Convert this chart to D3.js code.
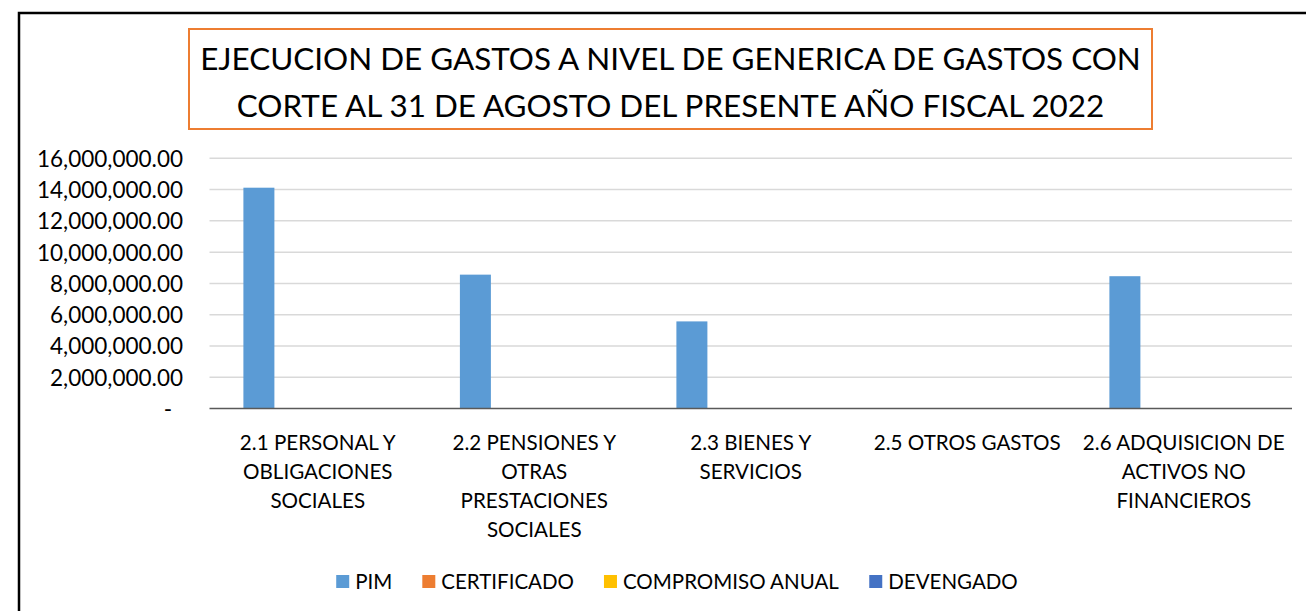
<!DOCTYPE html>
<html>
<head>
<meta charset="utf-8">
<title>Ejecucion de gastos 2022</title>
<script src="https://cdn.jsdelivr.net/npm/d3@7/dist/d3.min.js"></script>
<style>
    body { margin: 0; background: #fff; }
    svg text { font-family: Lato, "Liberation Sans", sans-serif; fill: #000; }
</style>
</head>
<body>
<svg id="chart" width="1306" height="611"></svg>
<script>
// categories (tick labels, "|" = line break as in the original)
var categories = ["2.1", "2.2", "2.3", "2.5", "2.6"];
var categoryLabels = [
    "2.1 PERSONAL Y|OBLIGACIONES|SOCIALES",
    "2.2 PENSIONES Y|OTRAS|PRESTACIONES|SOCIALES",
    "2.3 BIENES Y|SERVICIOS",
    "2.5 OTROS GASTOS",
    "2.6 ADQUISICION DE|ACTIVOS NO|FINANCIEROS"
];
var seriesNames = ["PIM", "CERTIFICADO", "COMPROMISO ANUAL", "DEVENGADO"];
var seriesColors = ["#5B9BD5", "#ED7D31", "#FFC000", "#4472C4"];

// values
var pim = [14120000, 8560000, 5570000, 0, 8460000];
var certificado = [30000, 30000, 30000, 0, 30000];
var compromiso = [30000, 30000, 30000, 0, 30000];
var devengado = [30000, 30000, 30000, 0, 30000];

var yTicks = [0, 2000000, 4000000, 6000000, 8000000, 10000000, 12000000, 14000000, 16000000];
var titleLines = ["EJECUCION DE GASTOS A NIVEL DE GENERICA DE GASTOS CON",
                  "CORTE AL 31 DE AGOSTO DEL PRESENTE AÑO FISCAL 2022"];

var allSeries = [pim, certificado, compromiso, devengado];

var svg = d3.select("#chart");

// outer frame
svg.append("rect")
    .attr("x", 19).attr("y", 13)
    .attr("width", 1400).attr("height", 700)
    .attr("fill", "none").attr("stroke", "#000").attr("stroke-width", 2.5);

// title box
svg.append("rect")
    .attr("x", 189).attr("y", 29)
    .attr("width", 963).attr("height", 100)
    .attr("fill", "#fff").attr("stroke", "#ED7D31").attr("stroke-width", 2);

svg.selectAll("text.title").data(titleLines).enter().append("text")
    .attr("class", "title")
    .attr("x", 670.5)
    .attr("y", function(d, i) { return 70 + i * 47; })
    .attr("text-anchor", "middle")
    .attr("font-size", "31.4px")
    .text(function(d) { return d; });

var plotLeft = 209.5, plotRight = 1292;
var y = d3.scaleLinear().domain([0, 16000000]).range([408.5, 158.3]);
var x0 = d3.scaleBand().domain(categories).range([plotLeft, plotRight]).padding(0);
var bw0 = x0.bandwidth();
var groupW = 148.7;
var x1 = d3.scaleBand().domain(d3.range(seriesNames.length))
    .range([(bw0 - groupW) / 2, (bw0 + groupW) / 2])
    .paddingInner(0.21).paddingOuter(0);

// gridlines
svg.append("g").selectAll("line").data(yTicks.slice(1)).enter().append("line")
    .attr("x1", plotLeft).attr("x2", plotRight)
    .attr("y1", function(d) { return y(d); })
    .attr("y2", function(d) { return y(d); })
    .attr("stroke", "#d9d9d9").attr("stroke-width", 1.5);

// y axis labels
var fmt = d3.format(",.2f");
var yAxis = d3.axisLeft(y).tickValues(yTicks).tickSize(0).tickPadding(0)
    .tickFormat(function(d) { return d === 0 ? "-" : fmt(d); });
var yg = svg.append("g").attr("transform", "translate(183,0)").call(yAxis);
yg.select(".domain").remove();
yg.selectAll("text")
    .attr("font-size", "22.5px")
    .attr("font-family", "Lato, 'Liberation Sans', sans-serif")
    .attr("fill", "#000")
    .attr("dy", "0.35em");
yg.selectAll(".tick").filter(function(d) { return d === 0; }).select("text")
    .attr("x", -11);

// bars
var groups = svg.append("g").selectAll("g").data(categories).enter().append("g")
    .attr("transform", function(d) { return "translate(" + x0(d) + ",0)"; });

groups.selectAll("rect")
    .data(function(d, ci) {
        return allSeries.map(function(s, si) { return { si: si, v: s[ci] }; });
    })
    .enter().append("rect")
    .attr("x", function(d) { return x1(d.si); })
    .attr("width", x1.bandwidth())
    .attr("y", function(d) { return y(d.v); })
    .attr("height", function(d) { return y(0) - y(d.v); })
    .attr("fill", function(d) { return seriesColors[d.si]; });

// zero axis line
svg.append("line")
    .attr("x1", plotLeft).attr("x2", plotRight)
    .attr("y1", y(0)).attr("y2", y(0))
    .attr("stroke", "#595959").attr("stroke-width", 1.5);

// category labels
var xAxis = d3.axisBottom(x0).tickSize(0).tickFormat("");
var xg = svg.append("g").attr("transform", "translate(0," + y(0) + ")").call(xAxis);
xg.select(".domain").remove();
xg.selectAll(".tick").each(function(d, i) {
    var t = d3.select(this).append("text")
        .attr("text-anchor", "middle")
        .attr("font-size", "20.6px")
        .attr("fill", "#000");
    categoryLabels[i].split("|").forEach(function(line, li) {
        t.append("tspan").attr("x", 0).attr("y", 41.5 + li * 29).text(line);
    });
});

// legend
var legend = svg.append("g");
var items = legend.selectAll("g").data(seriesNames).enter().append("g");
items.append("rect")
    .attr("width", 13).attr("height", 13)
    .attr("y", 575)
    .attr("fill", function(d, i) { return seriesColors[i]; });
items.append("text")
    .attr("x", 19).attr("y", 589)
    .attr("font-size", "20.5px")
    .text(function(d) { return d; });
var lx = 0;
items.each(function() {
    d3.select(this).attr("transform", "translate(" + lx + ",0)");
    lx += this.getBBox().width + 30;
});
legend.attr("transform", "translate(" + (677 - (lx - 30) / 2) + ",0)");
</script>
</body>
</html>
